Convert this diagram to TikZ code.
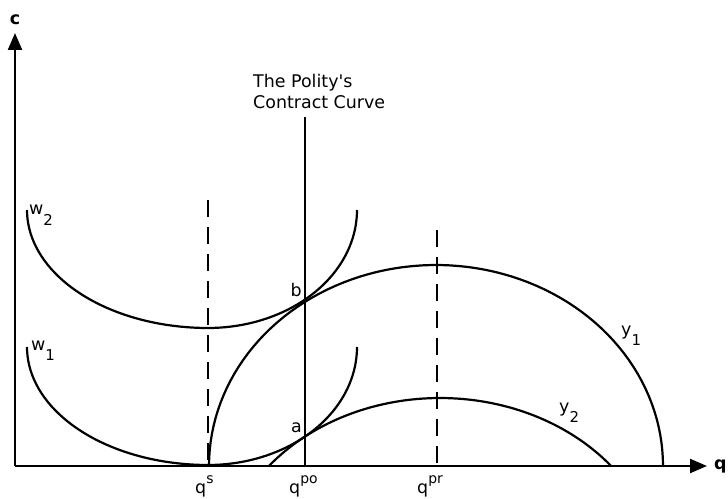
\documentclass[tikz,border=0pt]{standalone}
\usepackage{fontspec}
\setmainfont{DejaVu Sans}
\usetikzlibrary{arrows.meta,positioning}

\newcommand{\supq}[1]{\raisebox{0.55em}{\fontsize{14}{14}\selectfont #1}}
\newcommand{\subw}[1]{\raisebox{-0.6em}{\fontsize{15}{15}\selectfont #1}}

\begin{document}
\begin{tikzpicture}[x=1bp, y=-1bp,
    curve/.style={line width=2.2bp},
    axis/.style={line width=2.2bp, -{Triangle[length=17bp, width=14bp]}},
    guide/.style={line width=1.8bp, dash pattern=on 17bp off 10bp},
    lbl/.style={inner sep=0pt, font=\fontsize{17.5}{21}\selectfont}]
    \useasboundingbox (0,0) rectangle (728,499);

    % Axes
    \coordinate (origin) at (15,466);
    \coordinate (ctip) at (15,33);
    \coordinate (qtip) at (707,466);
    \draw[axis] (origin) -- (ctip);
    \draw[axis] (origin) -- (qtip);
    \node[lbl] (clabel) at (15,20) {\bfseries c};
    \node[lbl, anchor=west] (qlabel) at (714,466) {\bfseries q};

    % Contract curve
    \coordinate (cctop) at (305,117);
    \coordinate (qpo) at (305,466);
    \draw[curve] (cctop) -- (qpo);
    \node[lbl, anchor=north west, align=left] (cclabel) at (253,74) {The Polity\textquotesingle s\\Contract Curve};

    % Ideal points (dashed)
    \coordinate (qstop) at (208,200);
    \coordinate (qs) at (208,466);
    \coordinate (qprtop) at (437,230);
    \coordinate (qpr) at (437,466);
    \draw[guide] (qstop) -- (qs);
    \draw[guide] (qprtop) -- (qpr);

    % Indifference curves w
    \draw[curve] plot[domain=0:90, samples=40] ({208-181*cos(\x)}, {210+118*sin(\x)})
        -- plot[domain=90:0, samples=40] ({208+149*cos(\x)}, {210+118*sin(\x)});
    \draw[curve] plot[domain=0:90, samples=40] ({208-181*cos(\x)}, {347+118*sin(\x)})
        -- plot[domain=90:0, samples=40] ({208+149*cos(\x)}, {347+118*sin(\x)});

    % Curves y
    \draw[curve] plot[domain=180:0, samples=80] ({436+227*cos(\x)}, {466-201*sin(\x)});
    \draw[curve] plot[domain=141.1:38.9, samples=60] ({440+220*cos(\x)}, {581-183*sin(\x)});

    % Tangency points
    \coordinate (b) at (305,300);
    \coordinate (a) at (305,437);
    \node[lbl, above left=3bp and 3bp of b] (blabel) {b};
    \node[lbl, above left=4bp and 3bp of a] (alabel) {a};

    % Labels
    \node[lbl, anchor=base west] (w2label) at (29,215) {w\subw{2}};
    \node[lbl, anchor=base west] (w1label) at (31,350) {w\subw{1}};
    \node[lbl, anchor=base west] (y1label) at (621,335) {y\subw{1}};
    \node[lbl, anchor=base west] (y2label) at (559,412) {y\subw{2}};
    \node[lbl, anchor=base west] (qslabel) at (195,493) {q\supq{s}};
    \node[lbl, anchor=base west] (qpolabel) at (289,493) {q\supq{po}};
    \node[lbl, anchor=base west] (qprlabel) at (417,493) {q\supq{pr}};
\end{tikzpicture}
\end{document}
